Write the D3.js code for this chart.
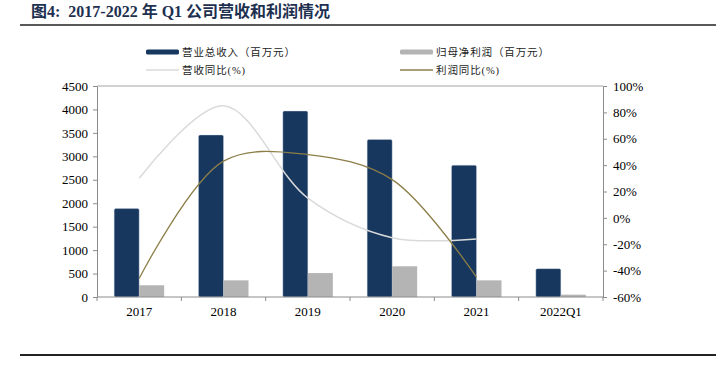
<!DOCTYPE html>
<html>
<head>
<meta charset="utf-8">
<script src="https://cdn.jsdelivr.net/npm/d3@7"></script>
<style>
  body { margin: 0; background: #fff; }
  svg { display: block; }
  text { text-spacing-trim: space-all; }
</style>
</head>
<body>
<div class="chart"></div>
<script>
// --- data ---
const years = ["2017", "2018", "2019", "2020", "2021", "2022Q1"];
const revenue = [1885, 3455, 3965, 3360, 2810, 605];      // 营业总收入（百万元）
const netProfit = [250, 355, 510, 655, 355, 50];           // 归母净利润（百万元）
const revenueYoY = [30, 85, 15, -15, -16];                 // 营收同比(%)，到2021
const profitYoY = [-46, 43, 48, 29, -45];                  // 利润同比(%)，到2021
const leftTicks = [0, 500, 1000, 1500, 2000, 2500, 3000, 3500, 4000, 4500];
const rightTicks = [-60, -40, -20, 0, 20, 40, 60, 80, 100];

const W = 716, H = 372;
const margin = { top: 86, right: 113, bottom: 75, left: 97 };
const serif = "'Liberation Serif', 'Times New Roman', serif";
const cjk = "'Noto Sans CJK SC', sans-serif";

const svg = d3.select(".chart").append("svg")
    .attr("width", W)
    .attr("height", H);

// title + rules
svg.append("text")
    .attr("x", 31).attr("y", 17)
    .style("font-family", `${serif}, ${cjk}`)
    .style("font-size", "16px")
    .style("font-weight", "bold")
    .style("fill", "#1d3050")
    .style("white-space", "pre")
    .text("图4:  2017-2022 年 Q1 公司营收和利润情况");

svg.append("line").attr("x1", 20).attr("x2", W).attr("y1", 25).attr("y2", 25)
    .attr("stroke", "#222").attr("stroke-width", 1.5);
svg.append("line").attr("x1", 20).attr("x2", W).attr("y1", 355).attr("y2", 355)
    .attr("stroke", "#222").attr("stroke-width", 2);

// scales
const x = d3.scaleBand()
    .domain(years)
    .range([margin.left, W - margin.right]);

const y = d3.scaleLinear()
    .domain([0, 4500])
    .range([H - margin.bottom, margin.top]);

const y2 = d3.scaleLinear()
    .domain([-60, 100])
    .range([H - margin.bottom, margin.top]);

const barW = 25;
const cx = d => x(d) + x.bandwidth() / 2;

// top border of plot
svg.append("line")
    .attr("x1", margin.left).attr("x2", W - margin.right)
    .attr("y1", margin.top).attr("y2", margin.top)
    .attr("stroke", "#a6a6a6");

// bars
svg.append("g").selectAll("rect")
    .data(years)
    .enter().append("rect")
    .attr("x", (d) => cx(d) - barW)
    .attr("y", (d, i) => y(revenue[i]))
    .attr("width", barW)
    .attr("height", (d, i) => y(0) - y(revenue[i]))
    .attr("rx", 1.5)
    .attr("fill", "#17375e")
    .attr("stroke", "#c9d3e0").attr("stroke-width", 0.4);

svg.append("g").selectAll("rect")
    .data(years)
    .enter().append("rect")
    .attr("x", (d) => cx(d))
    .attr("y", (d, i) => y(netProfit[i]))
    .attr("width", barW)
    .attr("height", (d, i) => y(0) - y(netProfit[i]))
    .attr("fill", "#b4b4b4");

// growth lines
const lineYears = years.slice(0, revenueYoY.length);
const line = d3.line()
    .x((d, i) => cx(lineYears[i]))
    .y(d => y2(d))
    .curve(d3.curveCatmullRom.alpha(0.5));

svg.append("path").datum(revenueYoY)
    .attr("d", line)
    .attr("fill", "none")
    .attr("stroke", "#dadada")
    .attr("stroke-width", 1.5);

svg.append("path").datum(profitYoY)
    .attr("d", line)
    .attr("fill", "none")
    .attr("stroke", "#8c7e48")
    .attr("stroke-width", 1.3);

// axes
const styleAxis = (g) => {
    g.select(".domain").attr("stroke", "#8c8c8c");
    g.selectAll(".tick line").attr("stroke", "#8c8c8c");
    g.selectAll("text")
        .style("font-family", serif)
        .style("font-size", "13px")
        .style("fill", "#000");
};

svg.append("g")
    .attr("transform", `translate(${margin.left},0)`)
    .call(d3.axisLeft(y).tickValues(leftTicks).tickSize(4).tickSizeOuter(0).tickPadding(5)
        .tickFormat(d3.format("d")))
    .call(styleAxis);

svg.append("g")
    .attr("transform", `translate(${W - margin.right},0)`)
    .call(d3.axisRight(y2).tickValues(rightTicks).tickSize(4).tickSizeOuter(0).tickPadding(6)
        .tickFormat(d => d + "%"))
    .call(styleAxis);

// x axis: ticks at band edges
const xg = svg.append("g")
    .attr("transform", `translate(0,${y(0)})`);
xg.append("line")
    .attr("x1", margin.left).attr("x2", W - margin.right)
    .attr("stroke", "#8c8c8c");
xg.selectAll(".edge")
    .data(years.concat(["end"]))
    .enter().append("line")
    .attr("x1", (d, i) => i < years.length ? x(d) : x(years[years.length - 1]) + x.bandwidth())
    .attr("x2", (d, i) => i < years.length ? x(d) : x(years[years.length - 1]) + x.bandwidth())
    .attr("y1", 0).attr("y2", 4)
    .attr("stroke", "#8c8c8c");
xg.selectAll("text")
    .data(years)
    .enter().append("text")
    .attr("x", d => cx(d))
    .attr("y", 19)
    .attr("text-anchor", "middle")
    .style("font-family", serif)
    .style("font-size", "13px")
    .text(d => d);

// legend
const legend = [
    { label: "营业总收入（百万元）", type: "bar", color: "#17375e", lx: 146, ly: 52, w: 113 },
    { label: "归母净利润（百万元）", type: "bar", color: "#b4b4b4", lx: 400, ly: 52, w: 113 },
    { label: "营收同比(%)", type: "line", color: "#dadada", lx: 146, ly: 70, w: 63 },
    { label: "利润同比(%)", type: "line", color: "#8c7e48", lx: 400, ly: 70, w: 63 }
];

const lg = svg.append("g").selectAll("g")
    .data(legend)
    .enter().append("g")
    .attr("transform", d => `translate(${d.lx},${d.ly})`);

lg.filter(d => d.type === "bar").append("rect")
    .attr("x", 0).attr("y", -2.5)
    .attr("width", 33).attr("height", 5)
    .attr("rx", 1.5)
    .attr("fill", d => d.color);

lg.filter(d => d.type === "line").append("line")
    .attr("x1", 0).attr("x2", 33)
    .attr("stroke", d => d.color)
    .attr("stroke-width", 1.3);

lg.append("text")
    .attr("x", 36).attr("y", 4)
    .attr("textLength", d => d.w)
    .attr("lengthAdjust", "spacing")
    .style("font-family", `${serif}, ${cjk}`)
    .style("font-size", "10.5px")
    .style("fill", "#222")
    .text(d => d.label);
</script>
</body>
</html>
